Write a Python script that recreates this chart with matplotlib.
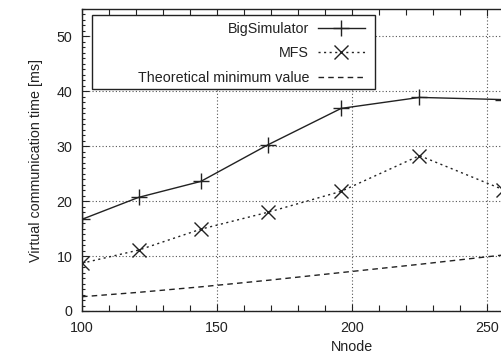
import matplotlib
matplotlib.use("Agg")
import matplotlib.pyplot as plt
from matplotlib.ticker import MultipleLocator
from matplotlib.patches import Rectangle

plt.rcParams['font.family'] = ['Liberation Sans', 'DejaVu Sans']

nnode = [100, 121, 144, 169, 196, 225, 256]
bigsim = [16.7, 20.7, 23.6, 30.3, 36.9, 38.9, 38.5]
mfs = [8.7, 11.1, 14.9, 18.0, 21.8, 28.3, 22.1]
theory = [2.6, 3.4, 4.4, 5.6, 7.0, 8.5, 10.2]

fs = 10.3
fig = plt.figure(figsize=(5.02, 3.53), dpi=100)
# axes run past the right edge, like the cropped original
ax = fig.add_axes([82/502, 42/353, 540/502, 302/353])

col = '#222222'
ax.plot(nnode, bigsim, color=col, lw=1.0, marker='+', ms=11, mew=1.0,
        label='BigSimulator')
ax.plot(nnode, mfs, color=col, lw=1.0, ls=(0, (1.5, 2.5)), marker='x', ms=10,
        mew=1.0, label='MFS')
ax.plot(nnode, theory, color=col, lw=1.0, ls=(0, (4, 3)),
        label='Theoretical minimum value')

ax.set_xlim(100, 300)
ax.set_ylim(0, 55)
ax.xaxis.set_major_locator(MultipleLocator(50))
ax.xaxis.set_minor_locator(MultipleLocator(10))
ax.yaxis.set_major_locator(MultipleLocator(10))
ax.yaxis.set_minor_locator(MultipleLocator(1))
ax.tick_params(which='both', direction='in', top=True, right=False,
               labelsize=fs, colors=col, width=0.8)
ax.tick_params(which='major', length=5, pad=7)
ax.tick_params(axis='x', which='minor', length=4)
ax.tick_params(axis='y', which='minor', length=2)
ax.grid(True, which='major', color='#555555', ls=(0, (1, 2)), lw=0.8)
for s in ax.spines.values():
    s.set_color(col)
    s.set_linewidth(1.0)

ax.set_xlabel('Nnode', fontsize=fs, color=col, labelpad=4)
ax.set_ylabel('Virtual communication time [ms]', fontsize=fs, color=col,
              labelpad=10)

# gnuplot-style key: wide box, labels right-aligned, sample on the right
box = Rectangle((10/540, 222/302), 283/540, 74/302, transform=ax.transAxes,
                facecolor='white', edgecolor=col, lw=1.0, zorder=4)
ax.add_patch(box)
leg = ax.legend(loc='upper right', bbox_to_anchor=(283/540, 289/302),
                borderaxespad=0, borderpad=0, markerfirst=False, fontsize=fs,
                handlelength=3.3, handletextpad=0.6, labelspacing=0.72,
                frameon=False)
leg.set_zorder(5)
for t in leg.get_texts():
    t.set_color(col)

fig.savefig('out.png', dpi=100)
